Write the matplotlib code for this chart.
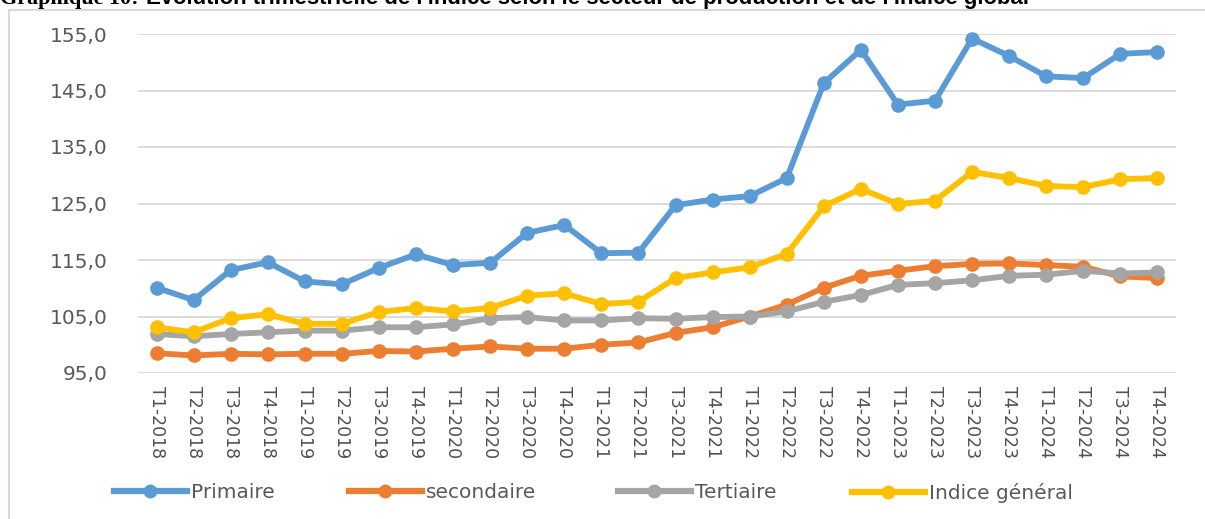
import matplotlib
matplotlib.use("Agg")
import matplotlib.pyplot as plt
from matplotlib.patches import Rectangle
from matplotlib.lines import Line2D

quarters = ["T1-2018", "T2-2018", "T3-2018", "T4-2018",
            "T1-2019", "T2-2019", "T3-2019", "T4-2019",
            "T1-2020", "T2-2020", "T3-2020", "T4-2020",
            "T1-2021", "T2-2021", "T3-2021", "T4-2021",
            "T1-2022", "T2-2022", "T3-2022", "T4-2022",
            "T1-2023", "T2-2023", "T3-2023", "T4-2023",
            "T1-2024", "T2-2024", "T3-2024", "T4-2024"]

primaire = [110.1, 107.9, 113.2, 114.6, 111.2, 110.7, 113.6, 116.0,
            114.1, 114.5, 119.8, 121.2, 116.2, 116.3, 124.7, 125.7,
            126.3, 129.5, 146.3, 152.2, 142.5, 143.2, 154.2, 151.1,
            147.5, 147.2, 151.5, 151.8]
secondaire = [98.5, 98.1, 98.4, 98.3, 98.4, 98.4, 98.9, 98.8,
              99.3, 99.7, 99.3, 99.3, 100.0, 100.4, 102.1, 103.1,
              105.0, 107.1, 110.1, 112.2, 113.1, 113.9, 114.3, 114.4,
              114.1, 113.8, 112.1, 111.8]
tertiaire = [101.9, 101.5, 101.9, 102.2, 102.5, 102.5, 103.1, 103.1,
             103.6, 104.7, 104.9, 104.3, 104.3, 104.7, 104.6, 104.9,
             105.0, 105.9, 107.6, 108.8, 110.6, 110.9, 111.4, 112.2,
             112.4, 113.1, 112.6, 112.8]
indice_general = [103.1, 102.2, 104.7, 105.4, 103.7, 103.7, 105.8, 106.5,
                  105.9, 106.5, 108.7, 109.1, 107.2, 107.6, 111.8, 112.8,
                  113.7, 116.1, 124.5, 127.6, 124.9, 125.5, 130.6, 129.5,
                  128.1, 127.9, 129.3, 129.5]

series_names = ["Primaire", "secondaire", "Tertiaire", "Indice général"]
series_values = [primaire, secondaire, tertiaire, indice_general]
colors = ["#5B9BD5", "#ED7D31", "#A5A5A5", "#FFC000"]
yticks = [95, 105, 115, 125, 135, 145, 155]
title_a = "Graphique 10:"
title_b = "Evolution trimestrielle de l'indice selon le secteur de production et de l'indice global"

W, H = 1205, 519
fig = plt.figure(figsize=(W / 100, H / 100), dpi=100)
fig.patch.set_facecolor("white")
renderer = fig.canvas.get_renderer()

# outer chart frame (right and bottom edges fall outside the image)
fig.patches.append(Rectangle((9 / W, -0.05), 1.2, 1 - 10 / H + 0.05,
                             transform=fig.transFigure, fill=False,
                             edgecolor="#D9D9D9", lw=1.5))

# clipped title at the very top, sized to the reference width (ends near x=1030)
base_y = 1 - 4 / H
ta = fig.text(0.0, base_y, title_a, ha="left", va="baseline", fontsize=14,
              fontweight="bold", family="Liberation Serif", color="black")
tb = fig.text(0.2, base_y, title_b, ha="left", va="baseline", fontsize=14,
              fontweight="bold", family="Liberation Sans", color="black")
wa = ta.get_window_extent(renderer).width
wb = tb.get_window_extent(renderer).width
gap = 0.3 * 14 * 100 / 72
fs = 14 * 1030 / (wa + wb + gap)
k = fs / 14
ta.set_fontsize(fs)
tb.set_fontsize(fs)
tb.set_x((wa + gap) * k / W)

ax = fig.add_axes([138 / W, 1 - 373 / H, (1176 - 138) / W, (373 - 34) / H])
x = list(range(len(quarters)))
for name, vals, c in zip(series_names, series_values, colors):
    ax.plot(x, vals, color=c, lw=4.2, marker="o", ms=9.5, label=name,
            clip_on=False, solid_joinstyle="round")

ax.set_xlim(-0.5, len(quarters) - 0.5)
ax.set_ylim(95, 155)
ax.set_yticks(yticks)
ax.set_yticklabels([f"{v:.1f}".replace(".", ",") for v in yticks])
ax.set_xticks(x)
ax.set_xticklabels(quarters, rotation=-90, va="top", ha="center")
ax.tick_params(axis="y", length=0, pad=22, labelsize=14.5, labelcolor="#595959")
ax.tick_params(axis="x", length=0, pad=9, labelsize=12.5, labelcolor="#505050")
ax.grid(axis="y", color="#D9D9D9", lw=1.3)
ax.set_axisbelow(True)
for s in ax.spines.values():
    s.set_visible(False)

# legend entries placed at the reference positions
legend_x = [114, 349, 618, 852]
for name, c, lx in zip(series_names, colors, legend_x):
    h = Line2D([0], [0], color=c, lw=4.5, marker="o", ms=9)
    fig.legend([h], [name], loc="center left",
               bbox_to_anchor=(lx / W, 1 - 493 / H),
               frameon=False, fontsize=14.5, handlelength=3.6,
               handletextpad=0.2, borderpad=0, borderaxespad=0,
               labelcolor="#595959")

fig.savefig("out.png", dpi=100, facecolor="white")
